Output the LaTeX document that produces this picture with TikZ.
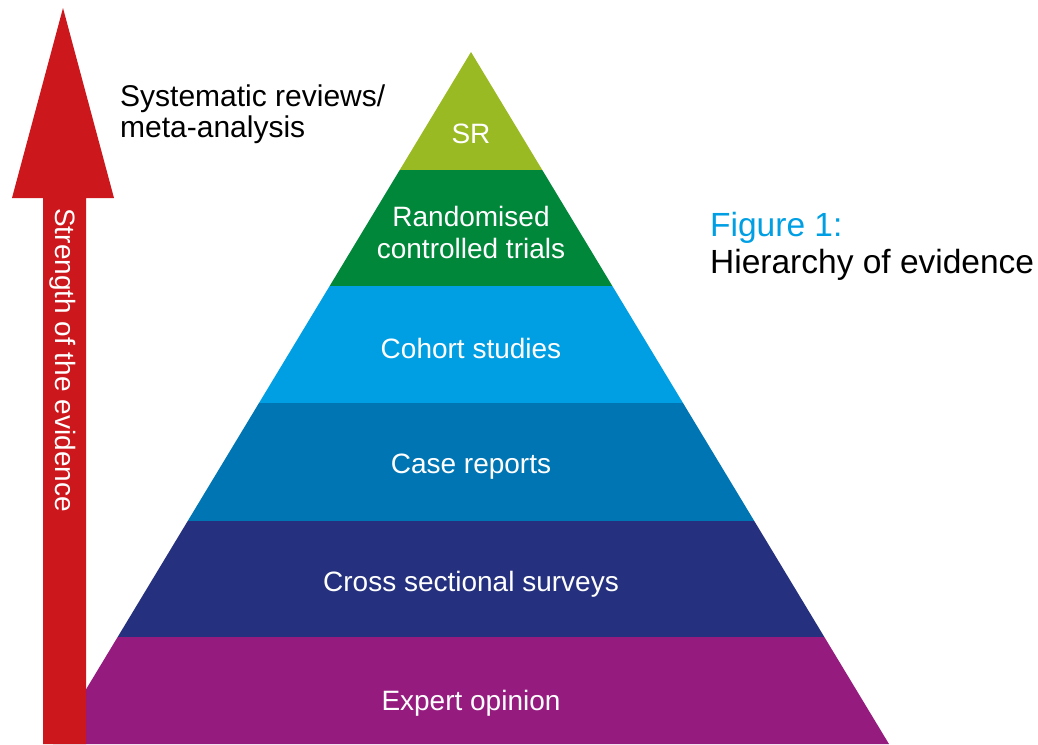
\documentclass[tikz,border=0pt]{standalone}
\usepackage{fontspec}
\setmainfont{Liberation Sans}
\usepackage{tikz}
\usetikzlibrary{positioning}
\definecolor{srgreen}{HTML}{99BA22}
\definecolor{rctgreen}{HTML}{00873A}
\definecolor{cohortblue}{HTML}{009FE3}
\definecolor{caseblue}{HTML}{0075B4}
\definecolor{crossblue}{HTML}{25317E}
\definecolor{expertpurple}{HTML}{951B7E}
\definecolor{arrowred}{HTML}{CC181C}
\tikzstyle{blabel}=[text=white, align=center, inner sep=0,
                font=\fontsize{28}{32}\selectfont]
\tikzstyle{side}=[text=black, inner sep=0, anchor=base west,
                font=\fontsize{30}{33}\selectfont]
\tikzstyle{caption}=[inner sep=0, anchor=base west,
                font=\fontsize{33.5}{38}\selectfont]

\begin{document}
\begin{tikzpicture}[x=1pt,y=-1pt]
\useasboundingbox (0,0) rectangle (1038,744);
% pyramid, apex at (471,52)
\foreach \t/\b/\c in {52/170/srgreen,170/286/rctgreen,286/403/cohortblue,
                      403/521/caseblue,521/637/crossblue,637/744/expertpurple}
  \fill[\c] ({471-(\t-52)*0.604},\t) -- ({471+(\t-52)*0.604},\t)
         -- ({471+(\b-52)*0.604},\b) -- ({471-(\b-52)*0.604},\b) -- cycle;
\node[blabel] (sr) at (471,134) {SR};
\node[blabel] (rct) at (471,232) {Randomised\\controlled trials};
\node[blabel] (cohort) at (471,348) {Cohort studies};
\node[blabel] (case) at (471,467) {Case reports};
\node[blabel] (cross) at (471,584) {Cross sectional surveys};
\node[blabel] (expert) at (471,703) {Expert opinion};
% arrow
\fill[arrowred] (43,744) -- (43,198) -- (12,198) -- (63,8) -- (114,198)
             -- (86,198) -- (86,744) -- cycle;
\node[blabel, rotate=-90] (strength) at (63,360) {Strength of the evidence};
% texts
\node[side] (sysrev) at (120,106) {Systematic reviews/};
\node[side, below=31pt of sysrev.base west, anchor=base west] (meta) {meta-analysis};
\node[caption, text=cohortblue] (figno) at (710,236) {Figure 1:};
\node[caption, below=37pt of figno.base west, anchor=base west] (figtitle) {Hierarchy of evidence};
\end{tikzpicture}
\end{document}
